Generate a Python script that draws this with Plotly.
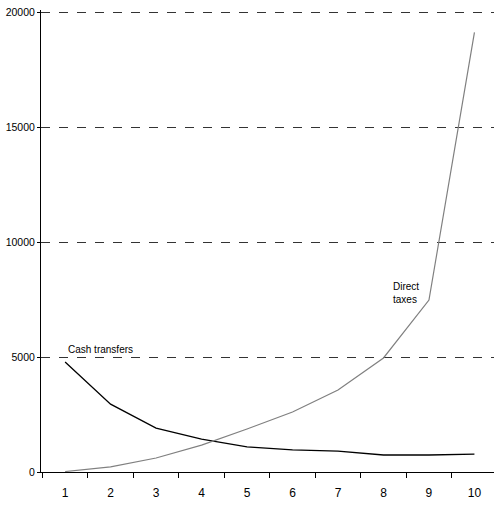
import plotly.graph_objects as go

deciles = ["1", "2", "3", "4", "5", "6", "7", "8", "9", "10"]
cash_transfers = [4790, 2950, 1910, 1430, 1090, 960, 910, 740, 740, 780]
direct_taxes = [20, 220, 610, 1170, 1870, 2610, 3570, 4960, 7480, 19130]
y_ticks = [0, 5000, 10000, 15000, 20000]

fig = go.Figure()
fig.add_trace(go.Scatter(x=deciles, y=cash_transfers, mode="lines",
                         line=dict(color="#000000", width=1.3), name="Cash transfers"))
fig.add_trace(go.Scatter(x=deciles, y=direct_taxes, mode="lines",
                         line=dict(color="#808080", width=1.2), name="Direct taxes"))

fam = "Liberation Sans Narrow, Liberation Sans, Arial, sans-serif"
fnt = dict(family=fam, size=10, color="#000000")

fig.add_annotation(x=0, y=5350, text="Cash transfers", showarrow=False,
                   xanchor="left", yanchor="middle", xshift=1, font=fnt)
fig.add_annotation(x=7, y=7800, text="Direct<br>taxes", showarrow=False,
                   xanchor="left", yanchor="middle", xshift=8, font=fnt, align="left")

fig.update_layout(
    width=494, height=508,
    margin=dict(l=41, r=0, t=10, b=36),
    paper_bgcolor="white", plot_bgcolor="white",
    showlegend=False,
    font=fnt,
    xaxis=dict(type="category", tickson="boundaries", ticks="outside", ticklen=5,
               tickcolor="#000000", showline=True, linecolor="#000000", linewidth=1,
               showgrid=False, zeroline=False, automargin=False,
               ticklabelstandoff=10,
               tickfont=dict(size=12, family="Liberation Sans, Arial"),
               range=[-0.53, 9.43]),
    yaxis=dict(range=[0, 20100], tickvals=y_ticks, ticktext=[str(v) for v in y_ticks],
               ticks="outside", ticklen=3, tickcolor="#000000",
               showline=True, linecolor="#000000", linewidth=1,
               showgrid=True, gridcolor="#333333", griddash="dash", gridwidth=1,
               zeroline=False, automargin=False, ticklabeloverflow="allow",
               tickfont=dict(size=10.5, family=fam)),
)

fig.write_html("out.html", config={"displayModeBar": False},
               post_script="document.body.style.margin='0';")
